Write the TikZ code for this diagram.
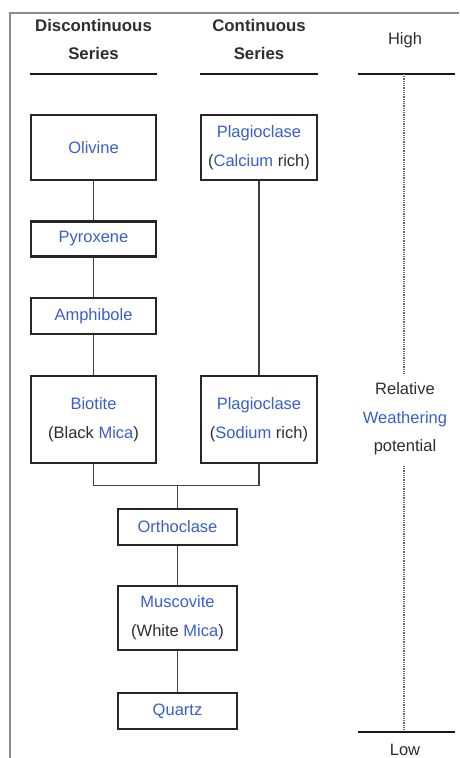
\documentclass[tikz,border=0pt]{standalone}
\usepackage{fontspec}
\setmainfont{Liberation Sans}
\definecolor{mblue}{HTML}{3A5FCD}
\definecolor{dtext}{HTML}{2E2E2E}
\definecolor{frame}{HTML}{8A8A8A}
\begin{document}
\begin{tikzpicture}[x=1pt,y=-1pt,
  mineral/.style={draw=black!85,line width=2.8pt,rectangle,inner sep=0pt,align=center,
    font=\fontsize{16.5}{29}\selectfont,text=dtext},
  head/.style={align=center,font=\fontsize{16.8}{28}\selectfont\bfseries,text=dtext},
  plain/.style={align=center,font=\fontsize{16.5}{28.5}\selectfont,text=dtext},
  conn/.style={draw=black!75,line width=1.5pt},
  rule/.style={draw=black!90,line width=2.8pt},
  dots/.style={draw=black!60,line width=1.3pt,dash pattern=on 1pt off 0.8pt}]
\useasboundingbox (0,0) rectangle (459,758);
\fill[white] (0,0) rectangle (459,758);
% frame
\draw[frame,line width=1.5pt] (10,758) -- (10,13) -- (459,13);
% headers
\node[head] (hd) at (93.5,39) {Discontinuous\\Series};
\node[head] (hc) at (259,39) {Continuous\\Series};
\node[plain] (high) at (405,40) {High};
\draw[rule] (30,74) -- (157,74);
\draw[rule] (200,74) -- (318,74);
\draw[rule] (358,74) coordinate (hl) -- (455,74);
% minerals
\node[mineral,minimum width=125pt,minimum height=65pt] (olivine) at (93.5,147.5) {\textcolor{mblue}{Olivine}};
\node[mineral,minimum width=116pt,minimum height=65pt] (plagca) at (259,147.5) {\textcolor{mblue}{Plagioclase}\\(\textcolor{mblue}{Calcium} rich)};
\node[mineral,minimum width=125pt,minimum height=35pt] (pyroxene) at (93.5,239) {\textcolor{mblue}{Pyroxene}};
\node[mineral,minimum width=125pt,minimum height=36pt] (amphibole) at (93.5,316) {\textcolor{mblue}{Amphibole}};
\node[mineral,minimum width=125pt,minimum height=87pt] (biotite) at (93.5,419.5) {\textcolor{mblue}{Biotite}\\(Black \textcolor{mblue}{Mica})};
\node[mineral,minimum width=116pt,minimum height=87pt] (plagna) at (259,419.5) {\textcolor{mblue}{Plagioclase}\\(\textcolor{mblue}{Sodium} rich)};
\node[mineral,minimum width=119pt,minimum height=36pt] (orthoclase) at (177.5,527) {\textcolor{mblue}{Orthoclase}};
\node[mineral,minimum width=119pt,minimum height=64pt] (muscovite) at (177.5,618) {\textcolor{mblue}{Muscovite}\\(White \textcolor{mblue}{Mica})};
\node[mineral,minimum width=119pt,minimum height=36pt] (quartz) at (177.5,711) {\textcolor{mblue}{Quartz}};
% connectors
\draw[conn] (olivine.south) -- (pyroxene.north);
\draw[conn] (pyroxene.south) -- (amphibole.north);
\draw[conn] (amphibole.south) -- (biotite.north);
\draw[conn] (plagca.south) -- (plagna.north);
\coordinate (join) at (177.5,485.5);
\draw[conn] (biotite.south) |- (join) -| (plagna.south);
\draw[conn] (join) -- (orthoclase.north);
\draw[conn] (orthoclase.south) -- (muscovite.north);
\draw[conn] (muscovite.south) -- (quartz.north);
% weathering scale
\node[plain] (rel) at (405,419) {Relative\\\textcolor{mblue}{Weathering}\\potential};
\coordinate (ttop) at (404,74);
\coordinate (tbot) at (404,732);
\draw[dots] (ttop) -- (404,374);
\draw[dots] (404,466) -- (tbot);
\draw[rule] (358,732) -- (455,732);
\node[plain] (low) at (405,750) {Low};
\end{tikzpicture}
\end{document}
